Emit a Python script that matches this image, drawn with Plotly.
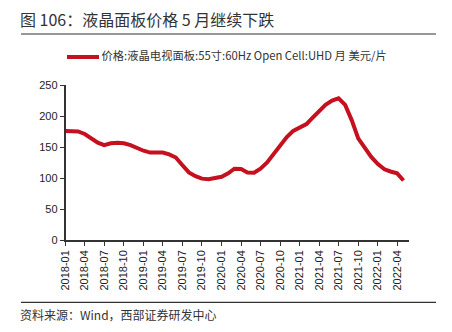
import plotly.graph_objects as go

months = ["2018-01","2018-02","2018-03","2018-04","2018-05","2018-06","2018-07","2018-08","2018-09","2018-10","2018-11","2018-12",
          "2019-01","2019-02","2019-03","2019-04","2019-05","2019-06","2019-07","2019-08","2019-09","2019-10","2019-11","2019-12",
          "2020-01","2020-02","2020-03","2020-04","2020-05","2020-06","2020-07","2020-08","2020-09","2020-10","2020-11","2020-12",
          "2021-01","2021-02","2021-03","2021-04","2021-05","2021-06","2021-07","2021-08","2021-09","2021-10","2021-11","2021-12",
          "2022-01","2022-02","2022-03","2022-04","2022-05"]
prices = [176, 176, 175, 171, 165, 157, 153, 156, 157, 156, 153, 148,
          144, 141, 141, 141, 138, 133, 121, 109, 103, 99, 98, 100,
          102, 107.5, 115, 114.5, 109, 108.5, 115, 125, 139, 152, 166, 176,
          181, 187, 197, 208.5, 218, 225, 228.5, 218, 193, 164, 148, 134,
          122.5, 114, 110.5, 107.5, 96]
series_name = "价格:液晶电视面板:55寸:60Hz Open Cell:UHD 月 美元/片"
title_text = "图 106：液晶面板价格 5 月继续下跌"
source_text = "资料来源：Wind，西部证券研发中心"
y_ticks = [0, 50, 100, 150, 200, 250]

dates = [m + "-01" for m in months]

W, H = 452, 332
X0, X1, Y0, Y1 = 65.5, 409.3, 85.0, 240.0

red = "#C5101F"
axis_color = "#333333"
rule_color = "#333333"
cjk = "Noto Sans CJK SC"

fig = go.Figure()
fig.add_trace(go.Scatter(x=dates, y=prices, mode="lines", name=series_name,
                         line=dict(color=red, width=4), showlegend=False))

# decoration layer: a full-figure pixel-space overlay
def deco_line(xs, ys, color, width):
    fig.add_trace(go.Scatter(x=xs, y=ys, mode="lines", xaxis="x2", yaxis="y2",
                             line=dict(color=color, width=width), showlegend=False, hoverinfo="skip"))

def deco_text(x, y, text, size, color="#333"):
    fig.add_trace(go.Scatter(x=[x], y=[y], mode="text", text=[text], textposition="middle right",
                             xaxis="x2", yaxis="y2", showlegend=False, hoverinfo="skip",
                             textfont=dict(family=cjk, size=size, color=color)))

deco_line([21, 436], [34, 34], rule_color, 1.2)
deco_line([21, 436], [302.3, 302.3], rule_color, 1.2)
deco_line([67, 99], [57, 57], red, 4)
deco_text(20, 21.5, title_text, 16)
deco_text(101.5, 57, series_name, 11.3)
deco_text(20, 316.5, source_text, 12)

fig.update_layout(
    width=W, height=H,
    margin=dict(l=0, r=0, t=0, b=0, pad=0),
    paper_bgcolor="white", plot_bgcolor="rgba(0,0,0,0)",
    font=dict(family="Liberation Sans, Arial", size=11, color="#222"),
    xaxis=dict(type="date", domain=[X0 / W, X1 / W], range=["2018-01-01", "2022-05-28"],
               tick0="2018-01-01", dtick="M3",
               tickformat="%Y-%m", tickangle=-90, showgrid=False, zeroline=False,
               showline=True, linecolor=axis_color, linewidth=1.5,
               ticks="outside", ticklen=4, tickcolor=axis_color, automargin=False,
               tickfont=dict(family="Liberation Sans, Arial", size=11, color="#222")),
    yaxis=dict(domain=[1 - Y1 / H, 1 - Y0 / H], range=[0, 250], tickvals=y_ticks, showgrid=False, zeroline=False,
               showline=True, linecolor=axis_color, linewidth=1.5,
               ticks="outside", ticklen=4, tickcolor=axis_color, automargin=False,
               tickfont=dict(family="Liberation Sans, Arial", size=11, color="#222")),
    xaxis2=dict(domain=[0, 1], range=[0, W], visible=False, anchor="y2", fixedrange=True),
    yaxis2=dict(domain=[0, 1], range=[H, 0], visible=False, anchor="x2", fixedrange=True),
)

fig.write_html("out.html")
